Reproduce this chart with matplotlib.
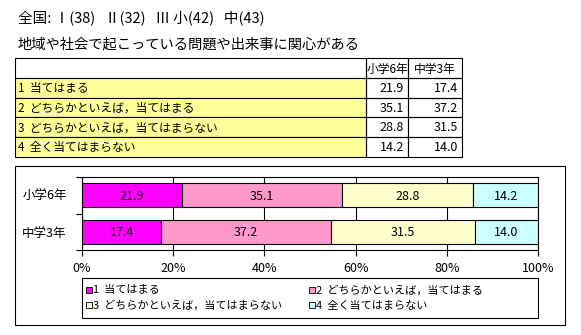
import matplotlib.pyplot as plt
from matplotlib.patches import Rectangle

plt.rcParams['font.family'] = ['Noto Sans CJK JP', 'DejaVu Sans']
plt.rcParams['font.size'] = 9

# --- データ ---
header = '全国: Ⅰ(38)   Ⅱ(32)   Ⅲ 小(42)   中(43)'
question = '地域や社会で起こっている問題や出来事に関心がある'
grades = ['小学6年', '中学3年']
answers = ['1  当てはまる', '2  どちらかといえば，当てはまる',
           '3  どちらかといえば，当てはまらない', '4  全く当てはまらない']
shou6 = [21.9, 35.1, 28.8, 14.2]
chuu3 = [17.4, 37.2, 31.5, 14.0]
colors = ['#FF00FF', '#FF99CC', '#FFFFCC', '#CCFFFF']

W, H = 581, 335
fig = plt.figure(figsize=(W / 100, H / 100), dpi=100)


def fx(x):
    return x / W


def fy(y):
    return 1 - y / H


def box(x0, y0, x1, y1, fc='none', lw=0.8):
    fig.add_artist(Rectangle((fx(x0), fy(y1)), fx(x1) - fx(x0), fy(y0) - fy(y1),
                             transform=fig.transFigure, facecolor=fc,
                             edgecolor='black', linewidth=lw))


fig.text(fx(18), fy(18), header, ha='left', va='center', fontsize=10.5)
fig.text(fx(18), fy(45), question, ha='left', va='center', fontsize=10.3)

# --- 表 ---
col_x = [15, 366, 408, 462]
row_y = [58, 78, 97.5, 117, 136.5, 156.5]
box(col_x[0], row_y[0], col_x[1], row_y[1])
for j, g in enumerate(grades):
    box(col_x[j + 1], row_y[0], col_x[j + 2], row_y[1])
    fig.text(fx((col_x[j + 1] + col_x[j + 2]) / 2), fy((row_y[0] + row_y[1]) / 2 + 1),
             g, ha='center', va='center', fontsize=8.5)
for i, a in enumerate(answers):
    y0, y1 = row_y[i + 1], row_y[i + 2]
    ym = (y0 + y1) / 2 + 1
    box(col_x[0], y0, col_x[1], y1, fc='#FFFF99')
    fig.text(fx(18), fy(ym), a, ha='left', va='center', fontsize=8.5)
    for j, vals in enumerate([shou6, chuu3]):
        box(col_x[j + 1], y0, col_x[j + 2], y1)
        fig.text(fx(col_x[j + 2] - 4), fy(ym), f'{vals[i]:.1f}',
                 ha='right', va='center', fontsize=9)

# --- グラフ外枠 ---
box(15, 166, 565, 325)

# --- 帯グラフ ---
ax = fig.add_axes([fx(82), fy(250), fx(538) - fx(82), fy(177) - fy(250)])
data = [shou6, chuu3]
for k in range(len(answers)):
    lefts = [sum(d[:k]) / 100 for d in data]
    widths = [d[k] / 100 for d in data]
    ax.barh(range(len(grades)), widths, left=lefts, height=0.66,
            color=colors[k], edgecolor='black', linewidth=0.8, zorder=3)
    for i, d in enumerate(data):
        ax.text(lefts[i] + widths[i] / 2, i + 0.03, f'{d[k]:.1f}',
                ha='center', va='center', fontsize=9, zorder=4)

ax.set_xlim(0, 1)
ax.set_ylim(1.5, -0.5)
ax.set_xticks([0, 0.2, 0.4, 0.6, 0.8, 1.0])
ax.set_xticklabels(['0%', '20%', '40%', '60%', '80%', '100%'], fontsize=9)
ax.set_yticks([-0.5, 0.5, 1.5])
ax.set_yticklabels([])
ax.set_yticks([0, 1], labels=grades, minor=True)
ax.tick_params(axis='y', which='minor', length=0, pad=11, labelsize=9)
ax.tick_params(axis='both', which='major', direction='out', length=4, width=0.8)
ax.tick_params(axis='x', pad=5)
ax.grid(axis='x', color='black', linewidth=0.8, zorder=1)
for s in ax.spines.values():
    s.set_linewidth(0.8)

# --- 凡例 ---
box(82, 278, 538, 318)
legend_pos = [(86, 290), (309, 290), (86, 305), (309, 305)]
for (x, y), c, a in zip(legend_pos, colors, answers):
    box(x, y - 3, x + 6, y + 3, fc=c, lw=0.6)
    fig.text(fx(x + 7), fy(y + 0.5), a, ha='left', va='center', fontsize=8)

fig.savefig('out.png', dpi=100)
